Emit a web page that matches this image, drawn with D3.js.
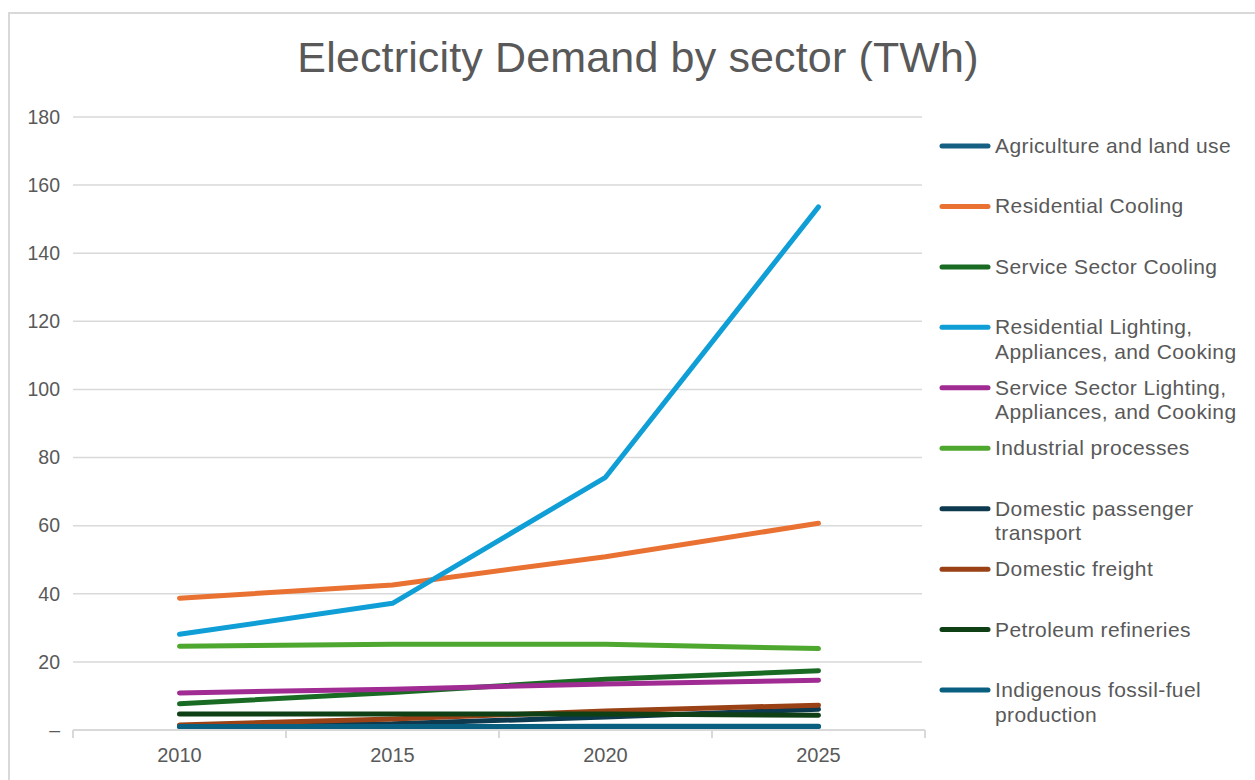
<!DOCTYPE html>
<html>
<head>
<meta charset="utf-8">
<script src="https://cdn.jsdelivr.net/npm/d3@7/dist/d3.min.js"></script>
<style>
  html, body { margin: 0; padding: 0; background: #ffffff; }
  svg { display: block; font-family: "Liberation Sans", Arial, Helvetica, sans-serif; }
</style>
</head>
<body>
<svg id="chart" width="1255" height="780"></svg>
<script>
// ---- data ----
const title = "Electricity Demand by sector (TWh)";
const years = ["2010", "2015", "2020", "2025"];
const yTicks = [0, 20, 40, 60, 80, 100, 120, 140, 160, 180];
const yTickLabels = ["–", "20", "40", "60", "80", "100", "120", "140", "160", "180"];

const seriesNames = [
  "Agriculture and land use",
  "Residential Cooling",
  "Service Sector Cooling",
  "Residential Lighting, Appliances, and Cooking",
  "Service Sector Lighting, Appliances, and Cooking",
  "Industrial processes",
  "Domestic passenger transport",
  "Domestic freight",
  "Petroleum refineries",
  "Indigenous fossil-fuel production"
];
const agriculture   = [1.0, 1.0, 1.1, 1.1];
const resCooling    = [38.7, 42.6, 50.9, 60.7];
const svcCooling    = [7.7, 11.0, 14.9, 17.4];
const resLighting   = [28.1, 37.2, 74.2, 153.6];
const svcLighting   = [10.9, 12.0, 13.5, 14.6];
const industrial    = [24.6, 25.2, 25.2, 23.9];
const passenger     = [1.2, 1.8, 3.8, 6.1];
const freight       = [1.5, 3.2, 5.6, 7.3];
const refineries    = [4.7, 4.7, 4.7, 4.3];
const indigenous    = [1.0, 1.0, 1.0, 1.0];
const seriesValues = [agriculture, resCooling, svcCooling, resLighting, svcLighting,
                      industrial, passenger, freight, refineries, indigenous];
const seriesColors = ["#156082", "#E97132", "#196B24", "#0F9ED5", "#A02B93",
                      "#4EA72E", "#0D3A4E", "#9A4215", "#0F4015", "#095F80"];

// ---- layout ----
const svg = d3.select("#chart");
const W = 1255, H = 780;
const plot = { left: 73, right: 925, top: 117, bottom: 730 };
const textColor = "#595959";
const gridColor = "#d9d9d9";

// frame
svg.append("path")
  .attr("d", `M9,${H + 5} L9,13 L${W + 5},13`)
  .attr("fill", "none").attr("stroke", gridColor).attr("stroke-width", 2);

// title
svg.append("text")
  .attr("x", 638).attr("y", 72)
  .attr("text-anchor", "middle")
  .attr("fill", textColor)
  .style("font-size", "43px")
  .style("letter-spacing", "0.15px")
  .text(title);

// scales
const x = d3.scaleBand().domain(years).range([plot.left, plot.right]).padding(0);
const y = d3.scaleLinear().domain([0, 180]).range([plot.bottom, plot.top]);

// gridlines
svg.append("g").selectAll("line")
  .data(yTicks.filter(d => d > 0))
  .join("line")
  .attr("x1", plot.left).attr("x2", plot.right - 3)
  .attr("y1", d => y(d)).attr("y2", d => y(d))
  .attr("stroke", gridColor).attr("stroke-width", 1.5);

// y axis labels
const yAxis = d3.axisLeft(y).tickValues(yTicks)
  .tickFormat((d, i) => yTickLabels[i]).tickSize(0).tickPadding(13);
const gy = svg.append("g").attr("transform", `translate(${plot.left},0)`).call(yAxis);
gy.select(".domain").remove();
gy.selectAll("text").attr("fill", textColor).style("font-size", "19.5px")
  .style("font-family", "'Liberation Sans', Arial, sans-serif");

// x axis
const gx = svg.append("g").attr("transform", `translate(0,${plot.bottom})`);
gx.append("line")
  .attr("x1", plot.left).attr("x2", plot.right)
  .attr("y1", 0).attr("y2", 0)
  .attr("stroke", gridColor).attr("stroke-width", 2);
const boundaries = years.map(d => x(d)).concat([x(years[years.length - 1]) + x.bandwidth()]);
gx.selectAll("line.tick").data(boundaries).join("line")
  .attr("class", "tick")
  .attr("x1", d => d).attr("x2", d => d)
  .attr("y1", 0).attr("y2", 8)
  .attr("stroke", gridColor).attr("stroke-width", 2);
gx.selectAll("text").data(years).join("text")
  .attr("x", d => x(d) + x.bandwidth() / 2)
  .attr("y", 32)
  .attr("text-anchor", "middle")
  .attr("fill", textColor)
  .style("font-size", "20px")
  .text(d => d);

// lines
const line = d3.line()
  .x((d, i) => x(years[i]) + x.bandwidth() / 2)
  .y(d => y(d));
svg.append("g").selectAll("path")
  .data(seriesValues)
  .join("path")
  .attr("d", d => line(d))
  .attr("fill", "none")
  .attr("stroke", (d, i) => seriesColors[i])
  .attr("stroke-width", 5)
  .attr("stroke-linecap", "round")
  .attr("stroke-linejoin", "round");

// legend
const legendTop = 146, legendStep = 60.45;
const legend = svg.append("g");
seriesNames.forEach((name, i) => {
  const cy = legendTop + i * legendStep;
  legend.append("line")
    .attr("x1", 942).attr("x2", 988)
    .attr("y1", cy).attr("y2", cy)
    .attr("stroke", seriesColors[i]).attr("stroke-width", 5)
    .attr("stroke-linecap", "round");
  const t = legend.append("text")
    .attr("x", 995).attr("y", cy + 7)
    .attr("fill", textColor)
    .style("font-size", "21px")
    .style("letter-spacing", "0.4px");
  // word wrap at max width
  const words = name.split(" ");
  let lineWords = [];
  let tspan = t.append("tspan").attr("x", 995).attr("dy", 0);
  const maxW = 252;
  words.forEach(w => {
    lineWords.push(w);
    tspan.text(lineWords.join(" "));
    if (tspan.node().getComputedTextLength() > maxW && lineWords.length > 1) {
      lineWords.pop();
      tspan.text(lineWords.join(" "));
      lineWords = [w];
      tspan = t.append("tspan").attr("x", 995).attr("dy", 24.5).text(w);
    }
  });
});
</script>
</body>
</html>
